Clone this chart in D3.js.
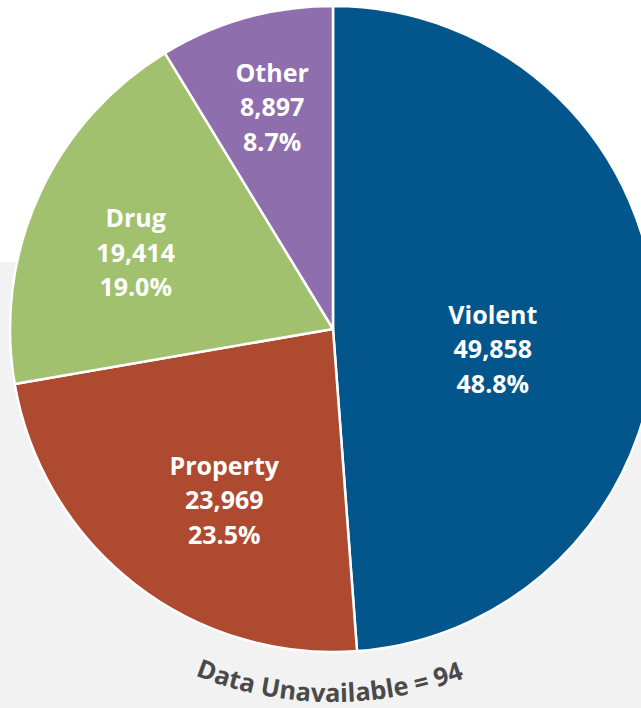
<!DOCTYPE html>
<html>
<head>
<meta charset="utf-8">
<script src="https://cdn.jsdelivr.net/npm/d3@7"></script>
<style>
  html, body { margin: 0; padding: 0; background: #ffffff; }
  svg { display: block; }
</style>
</head>
<body>
<svg id="chart" width="641" height="708"></svg>
<script>
// Offense categories and counts
const categories = ["Violent", "Property", "Drug", "Other"];
const counts = [49858, 23969, 19414, 8897];
const unavailableCount = 94;

// Slice colours
const sliceColors = ["#02568c", "#ae4a2f", "#a1c16f", "#8f6eae"];

// Label placement: polar offset from each slice's mid-angle (degrees) and radius
const labelAngleShift = [9, -5.4, -3, 0.4];
const labelRadius = [161, 202, 212, 231];

const W = 641, H = 708;
const cx = 333, cy = 329, R = 323;

const svg = d3.select("#chart");

// light grey panel behind the lower part of the pie
svg.append("rect")
  .attr("x", 0).attr("y", 262)
  .attr("width", W).attr("height", H - 262)
  .attr("fill", "#f2f2f2");

const total = d3.sum(counts);
const data = categories.map((c, i) => ({ name: c, value: counts[i], idx: i }));

const pie = d3.pie().value(d => d.value).sort(null).startAngle(0).endAngle(2 * Math.PI);
const arcs = pie(data);
const arc = d3.arc().innerRadius(0).outerRadius(R);

const g = svg.append("g").attr("transform", `translate(${cx},${cy})`);

g.selectAll("path.slice")
  .data(arcs)
  .join("path")
  .attr("class", "slice")
  .attr("d", arc)
  .attr("fill", d => sliceColors[d.data.idx])
  .attr("stroke", "#ffffff")
  .attr("stroke-width", 2.5)
  .attr("stroke-linejoin", "round");

const fmtCount = d3.format(",");
const fmtPct = d3.format(".1%");
const lineGap = 34.5;

const labels = g.selectAll("g.label")
  .data(arcs)
  .join("g")
  .attr("class", "label")
  .attr("transform", d => {
    const mid = (d.startAngle + d.endAngle) / 2 + labelAngleShift[d.data.idx] * Math.PI / 180;
    const [x, y] = d3.pointRadial(mid, labelRadius[d.data.idx]);
    return `translate(${x},${y})`;
  });

labels.each(function(d) {
  const lines = [d.data.name, fmtCount(d.data.value), fmtPct(d.data.value / total)];
  d3.select(this).selectAll("text")
    .data(lines)
    .join("text")
    .attr("x", 0)
    .attr("y", (t, i) => (i - 1) * lineGap)
    .attr("text-anchor", "middle")
    .attr("dominant-baseline", "central")
    .attr("fill", "#ffffff")
    .attr("font-family", "'Open Sans', sans-serif")
    .attr("font-weight", 700)
    .attr("font-size", 25)
    .text(t => t);
});

// curved note running under the pie
const notePath = d3.path();
notePath.arc(cx, cy, 373, Math.PI, 0, true);
svg.append("defs").append("path")
  .attr("id", "noteArc")
  .attr("d", notePath.toString());

svg.append("text")
  .attr("fill", "#4a4a4a")
  .attr("font-family", "'Open Sans', sans-serif")
  .attr("font-weight", 700)
  .attr("font-size", 25.5)
  .append("textPath")
  .attr("href", "#noteArc")
  .attr("startOffset", "49.7%")
  .attr("text-anchor", "middle")
  .text(`Data Unavailable = ${unavailableCount}`);
</script>
</body>
</html>
